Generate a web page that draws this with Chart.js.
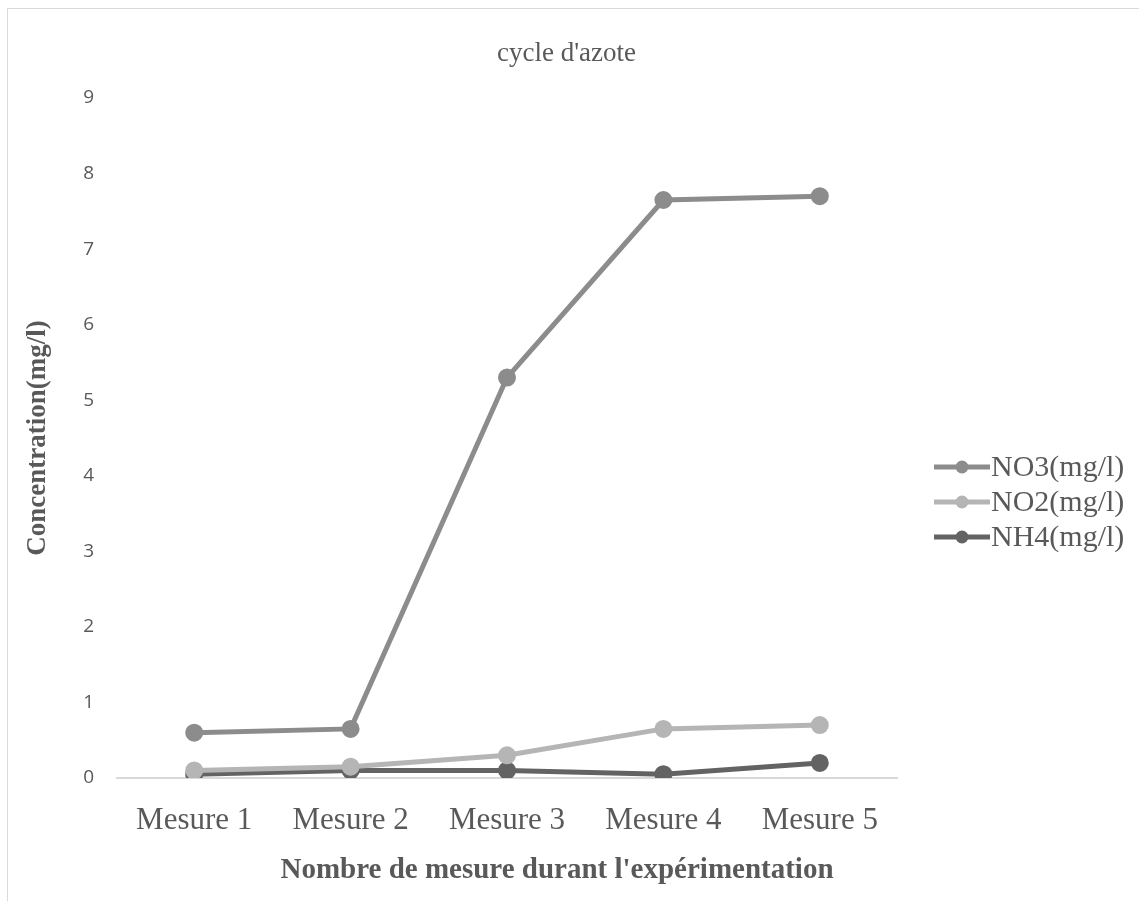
<!DOCTYPE html>
<html>
<head>
<meta charset="utf-8">
<title>cycle d'azote</title>
<script src="https://cdn.jsdelivr.net/npm/chart.js@4.4.1/dist/chart.umd.min.js"></script>
<style>
  html, body { margin: 0; padding: 0; background: #ffffff; }
  #wrap { position: relative; width: 1139px; height: 901px; overflow: hidden; }
  #frame {
    position: absolute; left: 7px; top: 8px; width: 1200px; height: 1000px;
    border-left: 1px solid #d9d9d9; border-top: 1px solid #d9d9d9;
  }
  #c { position: absolute; left: 0; top: 0; }
</style>
</head>
<body>
<div id="wrap">
  <div id="frame"></div>
  <canvas id="c" width="1139" height="901"></canvas>
</div>
<script>
// Measurements of the nitrogen cycle, concentrations in mg/l
const categories = ['Mesure 1', 'Mesure 2', 'Mesure 3', 'Mesure 4', 'Mesure 5'];
const no3 = [0.6, 0.65, 5.3, 7.65, 7.7];
const no2 = [0.1, 0.15, 0.3, 0.65, 0.7];
const nh4 = [0.05, 0.1, 0.1, 0.05, 0.2];
const seriesNames = ['NO3(mg/l)', 'NO2(mg/l)', 'NH4(mg/l)'];
const yTicks = [0, 1, 2, 3, 4, 5, 6, 7, 8, 9];
const xCaption = "Nombre de mesure durant l'expérimentation";

const SERIF = '"Liberation Serif", "Times New Roman", serif';
const SANS = '"Open Sans", "Liberation Sans", sans-serif';
const TEXT = '#595959';

function series(label, data, color) {
  return {
    label, data,
    borderColor: color,
    backgroundColor: color,
    pointBackgroundColor: color,
    pointBorderColor: color,
    borderWidth: 5,
    pointRadius: 6.5,
    pointHoverRadius: 6.5,
    tension: 0
  };
}

// Legend at the right, drawn from the chart's own datasets
const sideLegend = {
  id: 'sideLegend',
  afterDraw(chart) {
    const ctx = chart.ctx;
    const x0 = 934, x1 = 990, y0 = 467, step = 35;
    ctx.save();
    chart.data.datasets.forEach((ds, i) => {
      const y = y0 + i * step;
      ctx.strokeStyle = ds.borderColor;
      ctx.lineWidth = 5;
      ctx.lineCap = 'butt';
      ctx.beginPath();
      ctx.moveTo(x0, y);
      ctx.lineTo(x1, y);
      ctx.stroke();
      ctx.fillStyle = ds.backgroundColor;
      ctx.beginPath();
      ctx.arc((x0 + x1) / 2, y, 6.5, 0, Math.PI * 2);
      ctx.fill();
      ctx.fillStyle = TEXT;
      ctx.font = '30px ' + SERIF;
      ctx.textBaseline = 'middle';
      ctx.textAlign = 'left';
      ctx.fillText(ds.label, x1 + 1, y + 1);
    });
    ctx.restore();
  }
};

// Horizontal axis caption, centred under the whole chart rather than the plot
const xAxisCaption = {
  id: 'xAxisCaption',
  afterDraw(chart) {
    const ctx = chart.ctx;
    ctx.save();
    ctx.fillStyle = TEXT;
    ctx.font = 'bold 29px ' + SERIF;
    ctx.textAlign = 'center';
    ctx.textBaseline = 'middle';
    ctx.fillText(xCaption, 557, 871);
    ctx.restore();
  }
};

new Chart(document.getElementById('c'), {
  type: 'line',
  data: {
    labels: categories,
    datasets: [
      series(seriesNames[0], no3, '#8c8c8c'),
      series(seriesNames[1], no2, '#b5b5b5'),
      series(seriesNames[2], nh4, '#636363')
    ]
  },
  plugins: [sideLegend, xAxisCaption],
  options: {
    responsive: false,
    animation: false,
    events: [],
    layout: { padding: { left: 0, right: 6, top: 8, bottom: 0 } },
    plugins: {
      legend: { display: false },
      tooltip: { enabled: false },
      title: {
        display: true,
        text: "cycle d'azote",
        color: TEXT,
        font: { family: SERIF, size: 27, weight: 'normal' },
        padding: { top: 29.8, bottom: 27.8 }
      }
    },
    scales: {
      x: {
        offset: true,
        grid: { display: false },
        border: { display: false },
        ticks: {
          color: TEXT,
          font: { family: SERIF, size: 31 },
          padding: 16,
          maxRotation: 0
        },
        title: { display: false },
        afterFit(scale) { scale.height = 123; }
      },
      y: {
        min: 0,
        max: 9,
        afterBuildTicks(scale) { scale.ticks = yTicks.map(v => ({ value: v })); },
        grid: {
          drawTicks: false,
          color: ctx => (ctx.tick && ctx.tick.value === 0 ? '#d9d9d9' : 'rgba(0,0,0,0)'),
          lineWidth: 2
        },
        border: { display: false },
        ticks: {
          color: TEXT,
          font: { family: SANS, size: 19 },
          padding: 22
        },
        title: {
          display: true,
          text: 'Concentration(mg/l)',
          color: TEXT,
          font: { family: SERIF, size: 27, weight: 'bold' },
          padding: { top: 22, bottom: 0 }
        },
        afterFit(scale) { scale.width = 116; }
      },
      // empty band on the right that holds the legend
      legendBand: {
        type: 'linear',
        position: 'right',
        display: true,
        grid: { display: false },
        border: { display: false },
        ticks: { display: false },
        afterFit(scale) { scale.width = 235; }
      }
    }
  }
});
</script>
</body>
</html>
